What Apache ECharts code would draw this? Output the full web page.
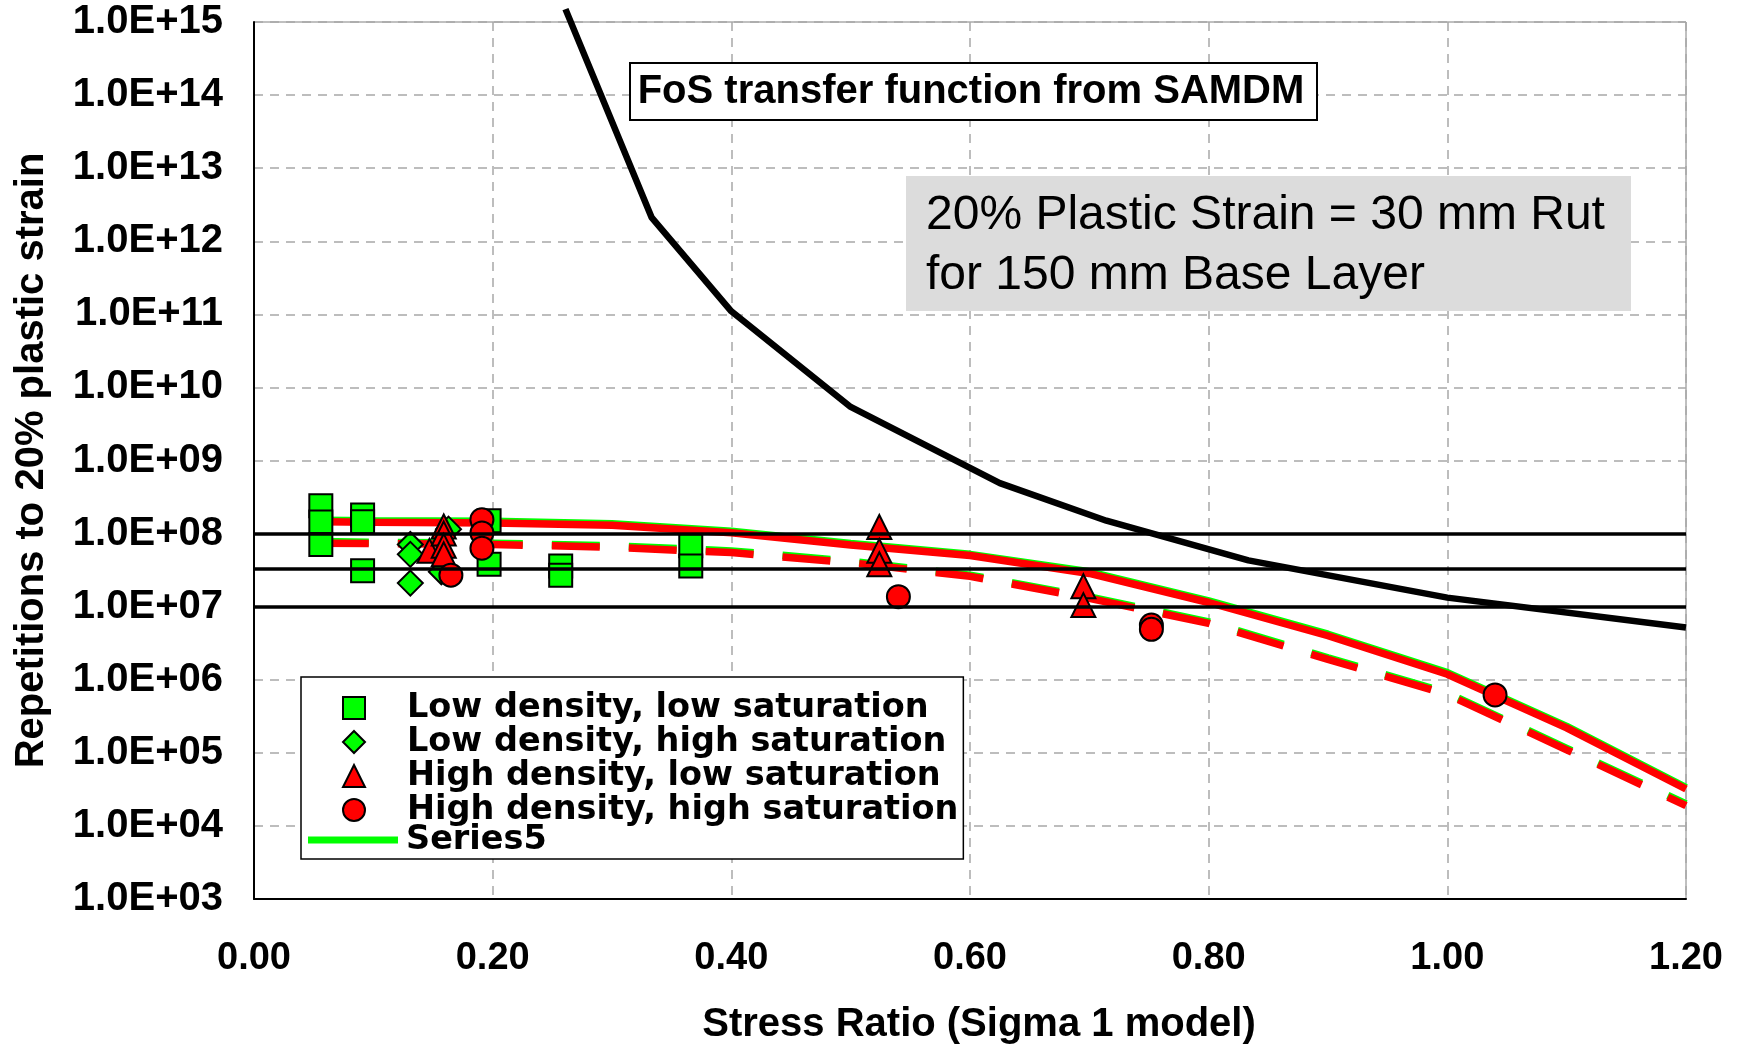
<!DOCTYPE html>
<html>
<head>
<meta charset="utf-8">
<script src="https://cdn.jsdelivr.net/npm/echarts@6/dist/echarts.min.js"></script>
<style>
  html, body { margin: 0; padding: 0; background: #fff; }
  #chart { width: 1742px; height: 1048px; }
</style>
</head>
<body>
<div id="chart"></div>
<script>
// ---------------- data ----------------
const X_TICK_LABELS = ['0.00', '0.20', '0.40', '0.60', '0.80', '1.00', '1.20'];
const Y_TICK_LABELS = ['1.0E+03', '1.0E+04', '1.0E+05', '1.0E+06', '1.0E+07', '1.0E+08', '1.0E+09',
  '1.0E+10', '1.0E+11', '1.0E+12', '1.0E+13', '1.0E+14', '1.0E+15'];

// Low density, low saturation (squares)
const SQ_X = [0.056, 0.056, 0.056, 0.091, 0.091, 0.091, 0.197, 0.197, 0.257, 0.257, 0.366, 0.366];
const SQ_Y = [2.4e8, 1.44e8, 7.1e7, 1.8e8, 1.45e8, 3.1e7, 1.5e8, 3.8e7, 3.6e7, 2.7e7, 6.8e7, 3.6e7];
// Low density, high saturation (diamonds)
const DI_X = [0.131, 0.131, 0.131, 0.163, 0.157];
const DI_Y = [7.1e7, 5.2e7, 2.1e7, 1.15e8, 3.0e7];
// High density, low saturation (triangles)
const TR_X = [0.147, 0.159, 0.159, 0.159, 0.159, 0.524, 0.524, 0.524, 0.695, 0.695];
const TR_Y = [5.8e7, 1.25e8, 1.0e8, 6.8e7, 5.2e7, 1.23e8, 5.8e7, 3.8e7, 1.9e7, 1.05e7];
// High density, high saturation (circles)
const CI_X = [0.191, 0.191, 0.191, 0.165, 0.540, 0.752, 0.752, 1.040];
const CI_Y = [1.55e8, 1.02e8, 6.3e7, 2.7e7, 1.37e7, 5.6e6, 4.9e6, 6.2e5];

// fitted curves
const FIT_X = [0.056, 0.1, 0.2, 0.3, 0.4, 0.5, 0.6, 0.7, 0.8, 0.9, 1.0, 1.1, 1.2];
const GREEN_SOLID = [1.52e8, 1.50e8, 1.47e8, 1.36e8, 1.08e8, 7.3e7, 5.2e7, 3.0e7, 1.2e7, 4.2e6, 1.25e6, 2.3e5, 3.35e4];
const RED_SOLID   = [1.45e8, 1.43e8, 1.40e8, 1.30e8, 1.03e8, 7.0e7, 5.0e7, 2.85e7, 1.14e7, 4.0e6, 1.19e6, 2.2e5, 3.2e4];
const GREEN_DASH  = [7.8e7, 7.6e7, 7.4e7, 6.8e7, 5.8e7, 4.2e7, 2.7e7, 1.36e7, 6.2e6, 2.0e6, 6.6e5, 1.15e5, 2.0e4];
const RED_DASH    = [7.4e7, 7.3e7, 7.1e7, 6.5e7, 5.5e7, 4.0e7, 2.6e7, 1.3e7, 5.9e6, 1.9e6, 6.3e5, 1.1e5, 1.9e4];

// FoS transfer function from SAMDM
const FOS_X = [0.261, 0.3333, 0.4, 0.5, 0.625, 0.7143, 0.8333, 1.0, 1.2];
const FOS_Y = [1.5e15, 2.1e12, 1.1e11, 5.4e9, 4.9e8, 1.5e8, 4.3e7, 1.33e7, 5.2e6];

// horizontal reference lines
const H_LINES = [1e8, 3.3e7, 1e7];

const LEGEND_NAMES = ['Low density, low saturation', 'Low density, high saturation',
  'High density, low saturation', 'High density, high saturation', 'Series5'];

// ---------------- helpers ----------------
const zip = (xs, ys) => xs.map((x, i) => [x, ys[i]]);
const GREEN = '#00ff00', RED = '#ff0000';
const FONT = 'Liberation Sans, Arial, sans-serif';
const LEG_FONT = { fontFamily: 'DejaVu Sans', fontWeight: 'bold', fontSize: 33.5, lineHeight: 32.5, color: '#000' };

function scatter(name, xs, ys, symbol, size, color) {
  return {
    name, type: 'scatter', data: zip(xs, ys), symbol, symbolSize: size, z: 3,
    itemStyle: { color, borderColor: '#000', borderWidth: 2, opacity: 1 }
  };
}
function fit(name, ys, color, dashed) {
  return {
    name, type: 'line', data: zip(FIT_X, ys), symbol: 'none', showSymbol: false, z: 2,
    clip: true,
    lineStyle: { color, width: 7.5, type: dashed ? [48, 29] : 'solid', cap: 'butt' },
    itemStyle: { color }
  };
}

const chart = echarts.init(document.getElementById('chart'), null, { renderer: 'canvas' });
chart.setOption({
  animation: false,
  backgroundColor: '#fff',
  grid: { left: 254, right: 56, top: 22, bottom: 149, containLabel: false, outerBoundsMode: 'none',
    show: true, borderColor: '#808080', borderWidth: 1, backgroundColor: 'transparent' },
  xAxis: {
    type: 'value', min: 0, max: 1.2, interval: 0.2,
    name: 'Stress Ratio (Sigma 1 model)', nameLocation: 'middle', nameGap: 106,
    nameTextStyle: { fontFamily: FONT, fontWeight: 'bold', fontSize: 40, color: '#000', padding: [0, 0, 0, 18] },
    axisLine: { show: true, onZero: false, lineStyle: { color: '#000', width: 2 } },
    axisTick: { show: false },
    axisLabel: {
      margin: 41, fontFamily: FONT, fontWeight: 'bold', fontSize: 38, color: '#000',
      formatter: v => X_TICK_LABELS[Math.round(v / 0.2)]
    },
    splitLine: { show: true, lineStyle: { color: '#a8a8a8', width: 1.5, type: [9, 7] } }
  },
  yAxis: {
    type: 'log', logBase: 10, min: 1e3, max: 1e15, interval: 1, splitNumber: 12,
    name: 'Repetitions to 20% plastic strain', nameLocation: 'middle', nameGap: 202, nameRotate: 90,
    nameTextStyle: { fontFamily: FONT, fontWeight: 'bold', fontSize: 40, color: '#000' },
    axisLine: { show: true, onZero: false, lineStyle: { color: '#000', width: 2 } },
    axisTick: { show: false },
    axisLabel: {
      margin: 31, fontFamily: FONT, fontWeight: 'bold', fontSize: 40, color: '#000', padding: [3, 0, 0, 0],
      formatter: v => Y_TICK_LABELS[Math.round(Math.log10(v)) - 3]
    },
    splitLine: { show: true, lineStyle: { color: '#a8a8a8', width: 1.5, type: [9, 7] } }
  },
  legend: [
    {
      data: LEGEND_NAMES.slice(0, 4).map(n => ({ name: n })),
      orient: 'vertical', left: 301, top: 677,
      padding: [14, 5, 32, 41], itemGap: 0, itemWidth: 22, itemHeight: 22,
      backgroundColor: '#fff', borderColor: '#000', borderWidth: 1.5,
      textStyle: Object.assign({ padding: [0, 0, 0, 37] }, LEG_FONT),
      selectedMode: false, z: 20
    },
    {
      data: [{ name: LEGEND_NAMES[4], icon: 'rect', itemStyle: { color: GREEN, borderWidth: 0 } }],
      orient: 'vertical', left: 308, top: 823,
      padding: 0, itemGap: 0, itemWidth: 90, itemHeight: 7,
      textStyle: Object.assign({ padding: [0, 0, 0, 3] }, LEG_FONT),
      selectedMode: false, z: 21
    }
  ],
  graphic: [
    { type: 'rect', z: 10, shape: { x: 630, y: 63, width: 687, height: 57 },
      style: { fill: '#fff', stroke: '#000', lineWidth: 2 } },
    { type: 'text', z: 11, x: 971, y: 92,
      style: { text: 'FoS transfer function from SAMDM', font: 'bold 40px Liberation Sans, Arial, sans-serif',
        fill: '#000', align: 'center', verticalAlign: 'middle', textAlign: 'center', textVerticalAlign: 'middle' } },
    { type: 'rect', z: 10, shape: { x: 906, y: 176, width: 725, height: 135 },
      style: { fill: '#dcdcdc', stroke: null } },
    { type: 'text', z: 11, x: 926, y: 216,
      style: { text: '20% Plastic Strain = 30 mm Rut', font: '48px Liberation Sans, Arial, sans-serif',
        fill: '#000', align: 'left', verticalAlign: 'middle', textAlign: 'left', textVerticalAlign: 'middle' } },
    { type: 'text', z: 11, x: 926, y: 276,
      style: { text: 'for 150 mm Base Layer', font: '48px Liberation Sans, Arial, sans-serif',
        fill: '#000', align: 'left', verticalAlign: 'middle', textAlign: 'left', textVerticalAlign: 'middle' } }
  ],
  series: [
    fit('Series5', GREEN_SOLID, GREEN, false),
    fit('Red fit', RED_SOLID, RED, false),
    fit('Green fit dashed', GREEN_DASH, GREEN, true),
    fit('Red fit dashed', RED_DASH, RED, true),
    scatter(LEGEND_NAMES[0], SQ_X, SQ_Y, 'rect', 23, GREEN),
    scatter(LEGEND_NAMES[1], DI_X, DI_Y, 'diamond', 25, GREEN),
    scatter(LEGEND_NAMES[2], TR_X, TR_Y, 'triangle', 24, RED),
    scatter(LEGEND_NAMES[3], CI_X, CI_Y, 'circle', 23, RED),
    {
      name: 'FoS transfer function', type: 'line', data: zip(FOS_X, FOS_Y), symbol: 'none', z: 5, clip: false,
      lineStyle: { color: '#000', width: 6.5 },
      markLine: {
        silent: true, symbol: 'none', label: { show: false },
        lineStyle: { color: '#000', width: 3.5, type: 'solid' },
        data: H_LINES.map(v => ({ yAxis: v }))
      }
    }
  ]
});
</script>
</body>
</html>
